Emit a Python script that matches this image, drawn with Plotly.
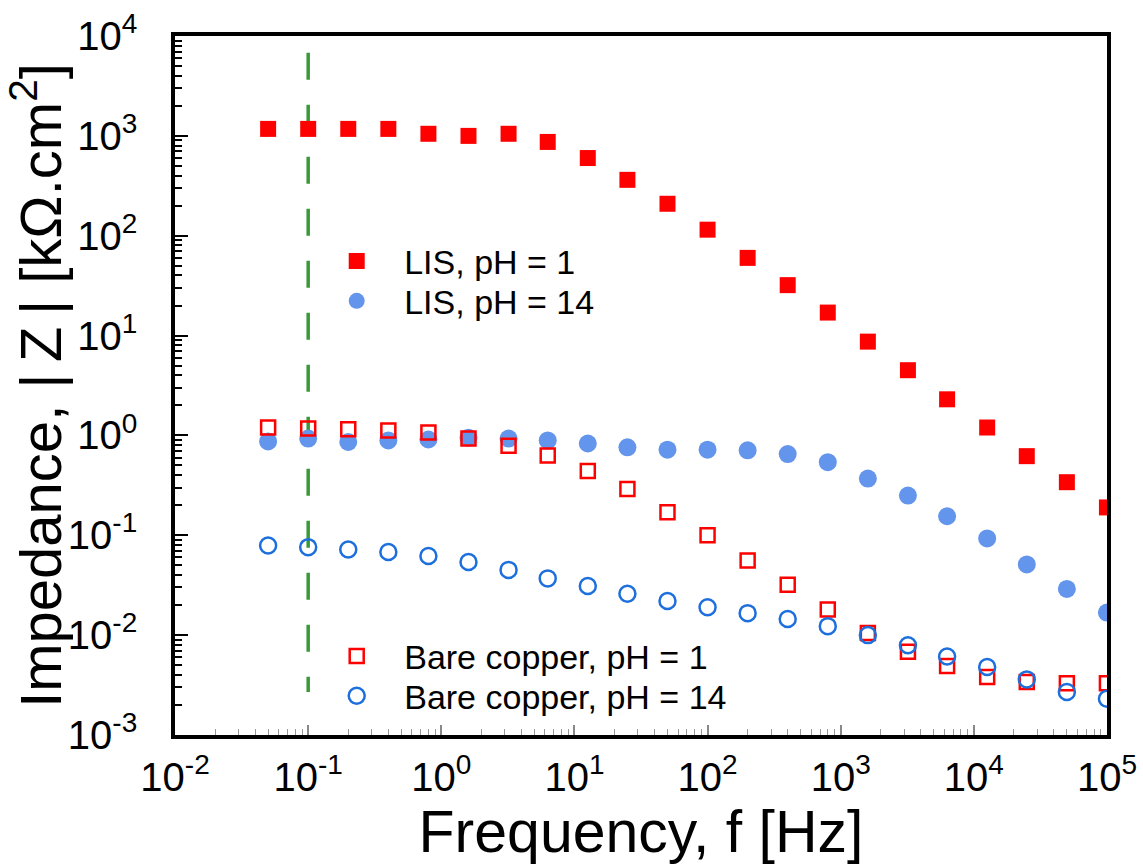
import plotly.graph_objects as go

# Frequency sweep (Hz)
freq = [0.05, 0.1, 0.2, 0.4, 0.8, 1.6, 3.2, 6.3, 12.6, 25, 50, 100, 200, 400,
        800, 1600, 3200, 6300, 12600, 25000, 50000, 100000]

# |Z| in kOhm.cm^2
lis_ph1 = [1175, 1175, 1175, 1175, 1050, 1000, 1050, 870, 600, 363, 209, 115,
           60, 32, 17, 8.7, 4.5, 2.3, 1.2, 0.62, 0.34, 0.19]
lis_ph14 = [0.87, 0.93, 0.86, 0.89, 0.91, 0.95, 0.93, 0.89, 0.83, 0.76, 0.72,
            0.72, 0.71, 0.65, 0.54, 0.37, 0.25, 0.155, 0.093, 0.051, 0.029, 0.0168]
bare_ph1 = [1.2, 1.17, 1.15, 1.12, 1.07, 0.93, 0.79, 0.63, 0.44, 0.29, 0.17,
            0.1, 0.056, 0.032, 0.018, 0.0105, 0.0068, 0.0049, 0.0038, 0.0034,
            0.0033, 0.0033]
bare_ph14 = [0.079, 0.076, 0.072, 0.068, 0.062, 0.054, 0.045, 0.037, 0.031,
             0.026, 0.022, 0.019, 0.0166, 0.0145, 0.0123, 0.010, 0.0079,
             0.0061, 0.0048, 0.0036, 0.0027, 0.0023]

# Vertical reference line at 0.1 Hz
ref_freq = [0.1, 0.1]
ref_z = [6800, 0.0027]

# Decade tick positions (exponents) and their labels
x_exp = [-2, -1, 0, 1, 2, 3, 4, 5]
y_exp = [-3, -2, -1, 0, 1, 2, 3, 4]
x_tickvals = [10.0 ** e for e in x_exp]
y_tickvals = [10.0 ** e for e in y_exp]
x_ticktext = [f"10<sup>{e}</sup>" for e in x_exp]
y_ticktext = [f"10<sup>{e}</sup>" for e in y_exp]

FONT = "Liberation Sans, Arial, sans-serif"

fig = go.Figure()

fig.add_trace(go.Scatter(
    x=ref_freq, y=ref_z, mode="lines", showlegend=False,
    line=dict(color="#3a9a3a", width=3.5, dash="27px,25px")))

fig.add_trace(go.Scatter(
    x=freq, y=lis_ph1, mode="markers", name="LIS, pH = 1", legend="legend",
    marker=dict(symbol="square", size=16, color="#ff0000")))
fig.add_trace(go.Scatter(
    x=freq, y=lis_ph14, mode="markers", name="LIS, pH = 14", legend="legend2",
    marker=dict(symbol="circle", size=18, color="#6495ed")))
fig.add_trace(go.Scatter(
    x=freq, y=bare_ph1, mode="markers", name="Bare copper, pH = 1", legend="legend3",
    marker=dict(symbol="square-open", size=14, color="#ff0000",
                line=dict(width=2.5, color="#ff0000"))))
fig.add_trace(go.Scatter(
    x=freq, y=bare_ph14, mode="markers", name="Bare copper, pH = 14", legend="legend4",
    marker=dict(symbol="circle-open", size=16, color="#1c6fdc",
                line=dict(width=2.5, color="#1c6fdc"))))

legend_common = dict(
    xref="paper", yref="paper", xanchor="left", yanchor="top",
    bgcolor="rgba(0,0,0,0)", borderwidth=0, itemwidth=85,
    font=dict(family=FONT, size=34, color="black"))

fig.update_layout(
    width=1143, height=867,
    margin=dict(l=175, r=36, t=36, b=132),
    paper_bgcolor="white", plot_bgcolor="white",
    font=dict(family=FONT, color="black"),
    legend=dict(x=0.144, y=0.719, **legend_common),
    legend2=dict(x=0.144, y=0.662, **legend_common),
    legend3=dict(x=0.144, y=0.154, **legend_common),
    legend4=dict(x=0.144, y=0.097, **legend_common),
    xaxis=dict(
        type="log", range=[-2.0005, 5.0005],
        tickmode="array", tickvals=x_tickvals, ticktext=x_ticktext,
        showline=True, linecolor="black", linewidth=3.5, mirror=True,
        ticks="inside", ticklen=10, tickwidth=1.5, tickcolor="#888888",
        minor=dict(ticks="inside", ticklen=6, tickwidth=1.2,
                   tickcolor="#999999", dtick="D1", showgrid=False),
        showgrid=False, zeroline=False, ticklabelstandoff=4,
        tickfont=dict(family=FONT, size=40, color="black"),
        title=dict(text="Frequency, f [Hz]", standoff=10,
                   font=dict(family=FONT, size=59, color="black")),
        automargin=False),
    yaxis=dict(
        type="log", range=[-3.0005, 4.0005],
        tickmode="array", tickvals=y_tickvals, ticktext=y_ticktext,
        showline=True, linecolor="black", linewidth=3.5, mirror=True,
        ticks="inside", ticklen=13, tickwidth=2, tickcolor="black",
        minor=dict(ticks="inside", ticklen=7, tickwidth=1.5,
                   tickcolor="black", dtick="D1", showgrid=False),
        showgrid=False, zeroline=False, ticklabelstandoff=26,
        tickfont=dict(family=FONT, size=40, color="black"),
        title=dict(text="Impedance, |\u2009Z\u2009| [kΩ.cm<sup>2</sup>]", standoff=10,
                   font=dict(family=FONT, size=58, color="black")),
        automargin=False),
)

fig.write_html("out.html")
